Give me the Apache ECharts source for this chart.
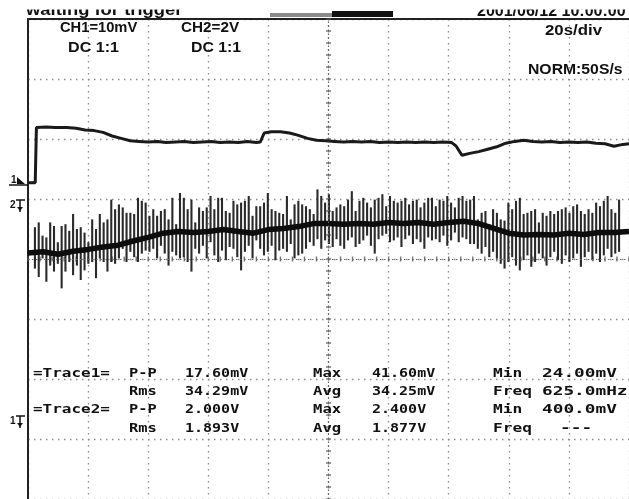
<!DOCTYPE html>
<html><head><meta charset="utf-8">
<script src="https://cdn.jsdelivr.net/npm/echarts@6/dist/echarts.min.js"></script>
<style>html,body{margin:0;padding:0;background:#fff}#c{width:629px;height:499px}</style>
</head><body><div id="c"></div>
<script>
// time axis: seconds (20 s/div), vertical axis: screen divisions (0..8)
const X_TICKS = [0, 200, 20];
const Y_TICKS = [0, 8, 1];

// Trace 1 (CH1) - time (s) and level (div)
const TRACE1_T = [0,2.4,2.8,6,9,13,16,19,22,25,28,31,34,37,40,43,46,49,52,55,58,61,64,67,70,73,76,77.3,78.6,81,84,87,90,93,96,99,102,105,108,111,114,117,120,123,126,129,132,135,138,141,142.5,144.4,147,150,153,156,159,162,165,168,171,174,177,180,183,186,189,192,195,198,200];
const TRACE1_V = [5.27,5.27,6.19,6.2,6.19,6.19,6.18,6.15,6.14,6.11,6.05,6.01,5.97,5.96,5.95,5.96,5.94,5.95,5.96,5.94,5.95,5.96,5.94,5.95,5.94,5.96,5.94,5.95,6.1,6.12,6.12,6.1,6.06,6.01,5.98,5.97,5.96,5.95,5.96,5.95,5.96,5.94,5.95,5.94,5.95,5.94,5.95,5.94,5.95,5.94,5.88,5.73,5.76,5.79,5.83,5.87,5.93,5.96,5.98,5.96,5.95,5.96,5.94,5.95,5.94,5.95,5.93,5.92,5.88,5.91,5.92];

// Trace 2 (CH2) - averaged level every 5 s
const TRACE2_T = [0,5,10,15,20,25,30,35,40,45,50,55,60,65,70,75,80,85,90,95,100,105,110,115,120,125,130,135,140,145,150,155,160,165,170,175,180,185,190,195,200];
const TRACE2_V = [4.10,4.12,4.08,4.13,4.16,4.20,4.23,4.30,4.36,4.43,4.46,4.44,4.46,4.49,4.46,4.43,4.49,4.51,4.54,4.59,4.59,4.58,4.59,4.58,4.61,4.59,4.61,4.58,4.61,4.63,4.59,4.51,4.43,4.40,4.41,4.40,4.43,4.41,4.44,4.44,4.46];

// Trace 2 spikes: first/last spike time, tops and bottoms (div)
const SPIKE_SPAN = [2.3, 196.7];
const SPIKE_TOP = [4.53,4.61,4.39,4.36,4.61,4.55,4.28,4.55,4.58,4.47,4.75,4.50,4.53,4.44,4.28,4.66,4.50,4.75,4.61,4.66,4.99,4.83,4.91,4.86,4.77,4.77,4.75,5.02,4.97,4.94,4.72,4.83,4.72,4.80,4.83,4.66,5.02,4.58,
5.10,5.02,4.83,4.99,4.61,4.86,4.80,4.86,5.05,4.83,5.02,5.02,4.80,4.77,4.97,4.91,4.94,4.97,5.05,4.72,4.88,4.88,4.94,5.10,4.83,4.80,4.77,4.75,5.05,4.66,4.91,4.97,4.91,4.88,4.83,4.75,5.16,5.05,4.94,
5.08,4.80,4.86,4.91,4.88,4.99,5.13,4.80,4.97,5.02,4.94,4.86,4.99,5.02,5.08,4.88,5.05,4.97,4.94,4.97,5.02,4.91,4.97,4.99,4.86,4.94,5.02,5.02,4.88,4.99,4.97,5.05,4.94,4.86,5.02,5.05,4.97,4.99,
5.05,4.66,4.77,4.80,4.58,4.83,4.77,4.66,4.64,4.94,4.83,4.97,5.02,4.75,4.77,4.80,4.83,4.61,4.77,4.72,4.80,4.75,4.80,4.83,4.86,4.77,4.88,4.91,4.80,4.75,4.83,4.77,4.94,4.88,4.97,5.05,4.83,4.77,4.99];
const SPIKE_BOTTOM = [3.84,3.70,4.01,3.62,3.89,3.79,3.92,3.51,3.79,3.95,3.73,3.89,3.65,3.81,3.92,3.95,3.68,4.01,3.95,3.79,3.95,3.92,4.01,4.17,3.95,4.12,4.03,3.95,4.09,4.14,4.12,4.17,4.01,4.22,4.09,3.89,4.12,4.06,
4.01,4.03,3.95,3.79,4.17,4.09,4.22,4.01,4.28,4.06,3.95,4.14,3.98,4.20,4.17,4.03,3.81,4.12,4.22,4.01,4.31,4.17,4.06,4.12,4.22,3.98,4.14,4.17,4.12,4.25,4.01,4.06,4.09,4.17,4.28,4.22,4.33,4.17,4.31,
4.25,4.20,4.33,4.22,4.17,4.31,4.36,4.20,4.25,4.31,4.39,4.22,4.09,4.33,4.39,4.42,4.28,4.31,4.36,4.20,4.33,4.39,4.25,4.33,4.28,4.17,4.36,4.31,4.33,4.28,4.39,4.22,4.31,4.44,4.28,4.36,4.33,4.25,
4.25,4.17,4.09,4.20,4.03,4.12,4.01,3.92,3.84,3.95,4.03,3.89,3.81,3.98,4.06,3.87,3.95,4.09,4.01,3.89,4.03,4.12,3.98,3.92,4.06,3.95,4.01,4.09,3.87,4.03,4.12,3.98,4.09,3.95,4.06,4.17,4.03,4.09,4.12];

// Header / measurement texts
const HEADER = ['CH1=10mV', 'DC 1:1', 'CH2=2V', 'DC 1:1', '20s/div', 'NORM:50S/s'];
const TOP_TEXT = ['waiting for trigger', '2001/06/12 10:00:00'];
const MEAS_ROWS = [
  ['=Trace1=', 'P-P', '17.60mV', 'Max', '41.60mV', 'Min', '24.00mV'],
  ['', 'Rms', '34.29mV', 'Avg', '34.25mV', 'Freq', '625.0mHz'],
  ['=Trace2=', 'P-P', '2.000V', 'Max', '2.400V', 'Min', '400.0mV'],
  ['', 'Rms', '1.893V', 'Avg', '1.877V', 'Freq', '---']
];

// ---- build ----
const trace1 = TRACE1_T.map((t, i) => [t, TRACE1_V[i]]);
const trace2 = TRACE2_T.map((t, i) => [t, TRACE2_V[i]]);
const nS = SPIKE_TOP.length;
const spikes = SPIKE_TOP.map((v, i) => [SPIKE_SPAN[0] + i * (SPIKE_SPAN[1] - SPIKE_SPAN[0]) / (nS - 1), v, SPIKE_BOTTOM[i]]);
const midX = (X_TICKS[0] + X_TICKS[1]) / 2, midY = (Y_TICKS[0] + Y_TICKS[1]) / 2;
const vTicks = [], hTicks = [];
for (let k = 0; k <= 40; k++) vTicks.push([midX, Y_TICKS[0] + k * Y_TICKS[2] / 5]);
for (let k = 0; k <= 50; k++) hTicks.push([X_TICKS[0] + k * X_TICKS[2] / 5, midY]);

const SANS = '"Liberation Sans", Arial, sans-serif';
const MONO = '"DejaVu Sans Mono", monospace';
function txt(x, y, s, size, sx, fam, z) {
  return { type: 'text', x: x, y: y, scaleX: sx, z: z || 20,
    style: { text: s, fill: '#111', font: 'bold ' + size + 'px ' + fam,
      textAlign: 'left', textVerticalAlign: 'middle' } };
}
const graphics = [];
// top cut-off strip (upper half hidden by the white band)
graphics.push(txt(26, 10.5, TOP_TEXT[0], 16, 1.15, SANS, 10));
graphics.push(txt(477, 11.5, TOP_TEXT[1], 16, 1.0, SANS, 10));
graphics.push({ type: 'rect', shape: { x: 0, y: 0, width: 629, height: 9.5 }, style: { fill: '#fff' }, z: 30 });
graphics.push({ type: 'rect', shape: { x: 270, y: 13, width: 62, height: 4 }, style: { fill: '#8a8a8a' }, z: 31 });
graphics.push({ type: 'rect', shape: { x: 332, y: 11, width: 61, height: 6 }, style: { fill: '#111' }, z: 31 });
// header
graphics.push(txt(60, 28, HEADER[0], 14, 1.05, SANS));
graphics.push(txt(68, 48, HEADER[1], 14, 1.15, SANS));
graphics.push(txt(181, 28, HEADER[2], 14, 1.09, SANS));
graphics.push(txt(191, 48, HEADER[3], 14, 1.13, SANS));
graphics.push(txt(545, 31, HEADER[4], 15, 1.12, SANS));
graphics.push(txt(528, 70, HEADER[5], 15, 1.05, SANS));
// measurements
const colX = [33, 129, 185, 313, 372, 493, 542];
const colSX = [1.33, 1.28, 1.25, 1.3, 1.25, 1.35, 1.48];
const rowY = [374, 392, 410, 429];
MEAS_ROWS.forEach((row, r) => row.forEach((s, c) => {
  if (!s) return;
  const x = (s === '---') ? 560 : colX[c];
  graphics.push(txt(x, rowY[r], s, 12, colSX[c], MONO));
}));
// channel markers
graphics.push(txt(11, 180, '1', 10, 1, SANS));
graphics.push({ type: 'polygon', shape: { points: [[17, 177], [25, 184], [17, 184]] }, style: { fill: '#111' }, z: 20 });
graphics.push({ type: 'line', shape: { x1: 9, y1: 185, x2: 28, y2: 185 }, style: { stroke: '#111', lineWidth: 1.5 }, z: 20 });
function levelMarker(y, label) {
  graphics.push(txt(10, y + 5, label, 10, 1, SANS));
  graphics.push({ type: 'polyline', shape: { points: [[16, y], [25, y]] }, style: { stroke: '#111', lineWidth: 1.5 }, z: 20 });
  graphics.push({ type: 'polyline', shape: { points: [[20, y], [20, y + 12]] }, style: { stroke: '#111', lineWidth: 1.5 }, z: 20 });
  graphics.push({ type: 'polygon', shape: { points: [[17, y + 7], [23, y + 7], [20, y + 11]] }, style: { fill: '#111' }, z: 20 });
}
levelMarker(200, '2');
levelMarker(416, '1');

const dotted = { color: '#8c8c8c', width: 1.3, type: [1.5, 4.5] };
const border = { color: '#222', width: 2 };
const option = {
  animation: false,
  backgroundColor: '#fff',
  grid: { left: 28, top: 19, width: 608, height: 488 },
  xAxis: { type: 'value', min: X_TICKS[0], max: X_TICKS[1], interval: X_TICKS[2], position: 'top',
    axisLine: { show: true, onZero: false, lineStyle: border }, axisTick: { show: false }, axisLabel: { show: false },
    splitLine: { show: true, lineStyle: dotted } },
  yAxis: { type: 'value', min: Y_TICKS[0], max: Y_TICKS[1], interval: Y_TICKS[2],
    axisLine: { show: true, onZero: false, lineStyle: border }, axisTick: { show: false }, axisLabel: { show: false },
    splitLine: { show: true, lineStyle: dotted } },
  graphic: graphics,
  series: [
    { type: 'scatter', name: 'vticks', data: vTicks, symbol: 'rect', symbolSize: [5, 1.4], silent: true, z: 1,
      itemStyle: { color: '#555' },
      markLine: { silent: true, symbol: 'none', label: { show: false },
        lineStyle: { color: '#666', width: 1.2, type: [1.5, 2.5] },
        data: [{ xAxis: midX }, { yAxis: midY }] } },
    { type: 'scatter', name: 'hticks', data: hTicks, symbol: 'rect', symbolSize: [1.4, 5], silent: true, z: 1,
      itemStyle: { color: '#555' } },
    { type: 'custom', name: 'CH2 spikes', data: spikes, z: 2,
      renderItem: function (params, api) {
        const p1 = api.coord([api.value(0), api.value(1)]);
        const p2 = api.coord([api.value(0), api.value(2)]);
        return { type: 'line', shape: { x1: p1[0], y1: p1[1], x2: p2[0], y2: p2[1] },
          style: { stroke: '#2a2a2a', lineWidth: 2.1 } };
      } },
    { type: 'line', name: 'CH2', data: trace2, symbol: 'none', z: 3,
      lineStyle: { color: '#0d0d0d', width: 5.5 } },
    { type: 'line', name: 'CH1', data: trace1, symbol: 'none', z: 3,
      lineStyle: { color: '#1a1a1a', width: 3 } }
  ]
};
const chart = echarts.init(document.getElementById('c'), null, { renderer: 'canvas' });
chart.setOption(option);
</script></body></html>
